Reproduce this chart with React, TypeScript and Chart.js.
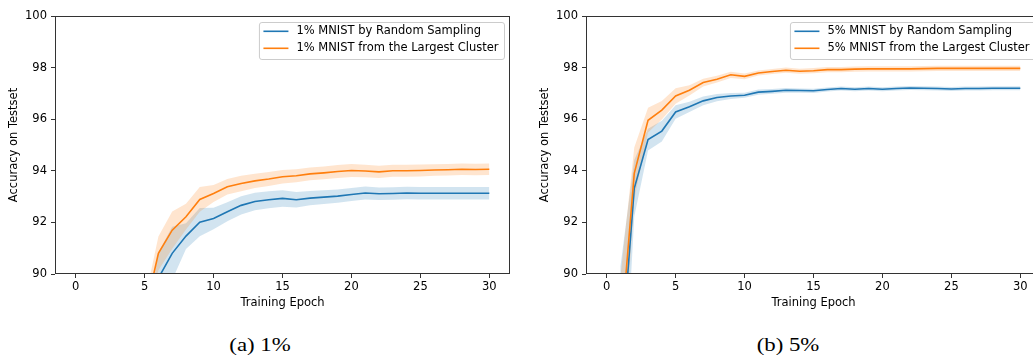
import React, { useEffect, useRef } from 'react';
import { Chart, registerables } from 'chart.js';

Chart.register(...registerables);

// ---------- data ----------
const epochs = [0, 1, 2, 3, 4, 5, 6, 7, 8, 9, 10, 11, 12, 13, 14, 15, 16, 17, 18, 19, 20, 21, 22, 23, 24, 25, 26, 27, 28, 29, 30];
const xTicks = [0, 5, 10, 15, 20, 25, 30];
const yTicks = [90, 92, 94, 96, 98, 100];

const randomMean1 = [10.1, 21.3, 45.0, 68.5, 80.2, 86.5, 89.84, 90.8, 91.47, 92.01, 92.15, 92.41, 92.66, 92.81, 92.88, 92.93, 92.88, 92.94, 92.98, 93.02, 93.08, 93.14, 93.11, 93.12, 93.14, 93.13, 93.13, 93.13, 93.13, 93.13, 93.13];
const randomStd1 = [2.0, 3.0, 3.0, 2.5, 1.5, 1.1, 1.0, 1.03, 0.5, 0.55, 0.42, 0.37, 0.35, 0.34, 0.33, 0.32, 0.3, 0.28, 0.27, 0.26, 0.25, 0.25, 0.24, 0.24, 0.24, 0.24, 0.24, 0.24, 0.24, 0.24, 0.24];
const clusterMean1 = [11.4, 30.2, 55.0, 74.5, 84.0, 88.45, 90.8, 91.7, 92.22, 92.89, 93.12, 93.38, 93.51, 93.61, 93.68, 93.77, 93.81, 93.88, 93.92, 93.97, 94.01, 93.99, 93.96, 94.0, 94.0, 94.01, 94.03, 94.04, 94.06, 94.05, 94.06];
const clusterStd1 = [2.0, 3.0, 3.0, 2.0, 1.0, 0.5, 0.65, 0.72, 0.5, 0.48, 0.33, 0.3, 0.3, 0.28, 0.27, 0.26, 0.25, 0.25, 0.25, 0.25, 0.25, 0.24, 0.24, 0.23, 0.23, 0.23, 0.22, 0.22, 0.22, 0.22, 0.22];

const randomMean5 = [45.0, 86.3, 93.32, 95.21, 95.54, 96.28, 96.48, 96.71, 96.84, 96.9, 96.93, 97.05, 97.08, 97.12, 97.11, 97.1, 97.15, 97.19, 97.16, 97.19, 97.16, 97.19, 97.21, 97.2, 97.19, 97.17, 97.19, 97.19, 97.2, 97.2, 97.2];
const randomStd5 = [4.0, 4.0, 1.1, 0.42, 0.4, 0.26, 0.2, 0.17, 0.14, 0.12, 0.1, 0.1, 0.09, 0.09, 0.08, 0.08, 0.08, 0.08, 0.08, 0.08, 0.08, 0.08, 0.08, 0.08, 0.08, 0.08, 0.08, 0.08, 0.08, 0.08, 0.08];
const clusterMean5 = [52.0, 87.4, 93.9, 95.96, 96.35, 96.9, 97.12, 97.42, 97.55, 97.72, 97.66, 97.79, 97.85, 97.9, 97.86, 97.88, 97.92, 97.92, 97.94, 97.95, 97.95, 97.95, 97.95, 97.96, 97.97, 97.97, 97.97, 97.97, 97.97, 97.97, 97.97];
const clusterStd5 = [3.0, 2.5, 1.0, 0.48, 0.36, 0.3, 0.2, 0.15, 0.13, 0.12, 0.11, 0.1, 0.1, 0.1, 0.1, 0.1, 0.1, 0.1, 0.1, 0.1, 0.1, 0.1, 0.1, 0.1, 0.1, 0.1, 0.1, 0.1, 0.1, 0.1, 0.1];

const labels1 = ['1% MNIST by Random Sampling', '1% MNIST from the Largest Cluster'];
const labels5 = ['5% MNIST by Random Sampling', '5% MNIST from the Largest Cluster'];
const captions = ['(a) 1%', '(b) 5%'];
const xTitle = 'Training Epoch';
const yTitle = 'Accuracy on Testset';

// ---------- style ----------
const BLUE = '#1f77b4';
const ORANGE = '#ff7f0e';
const BLUE_BAND = 'rgba(31,119,180,0.2)';
const ORANGE_BAND = 'rgba(255,127,14,0.2)';
const FONT = 'DejaVu Sans';
const FS = 11.5;
const AXIS_COLOR = '#333333';

const toPoints = (vals: number[]) => epochs.map((e, i) => ({ x: e, y: vals[i] }));
const bandEdge = (mean: number[], std: number[], sign: number) =>
  epochs.map((e, i) => ({ x: e, y: mean[i] + sign * std[i] }));

const frameLegendPlugin = {
  id: 'frameLegend',
  afterDatasetsDraw(chart: any) {
    const { ctx, chartArea: a } = chart;
    ctx.save();
    ctx.strokeStyle = AXIS_COLOR;
    ctx.lineWidth = 1;
    const l = Math.round(a.left) + 0.5;
    const t = Math.round(a.top) + 0.5;
    const r = Math.round(a.right) - 0.5;
    const b = Math.round(a.bottom) - 0.5;
    ctx.strokeRect(l, t, r - l, b - t);
    ctx.restore();
  },
  afterDraw(chart: any) {
    const { ctx, chartArea: a } = chart;
    const items = chart.data.datasets.filter((d: any) => d.label);
    ctx.save();
    ctx.font = `${FS}px "${FONT}"`;
    const tw = Math.max(...items.map((d: any) => ctx.measureText(d.label).width));
    const bw = 4.5 + 25 + 8 + tw + 5.5;
    const bh = 37;
    const bx = a.right - 6 - bw;
    const by = a.top + 6;
    ctx.beginPath();
    if ((ctx as any).roundRect) (ctx as any).roundRect(bx + 0.5, by + 0.5, bw, bh, 2.5);
    else ctx.rect(bx + 0.5, by + 0.5, bw, bh);
    ctx.fillStyle = 'rgba(255,255,255,0.8)';
    ctx.fill();
    ctx.strokeStyle = '#cccccc';
    ctx.lineWidth = 1;
    ctx.stroke();
    items.forEach((d: any, i: number) => {
      const y = by + 9.3 + i * 17;
      ctx.beginPath();
      ctx.moveTo(bx + 4.5, y);
      ctx.lineTo(bx + 29.5, y);
      ctx.strokeStyle = d.borderColor;
      ctx.lineWidth = 1.6;
      ctx.stroke();
      ctx.fillStyle = '#000';
      ctx.textBaseline = 'middle';
      ctx.textAlign = 'left';
      ctx.fillText(d.label, bx + 37.5, y);
    });
    ctx.restore();
  },
};

type PanelProps = {
  left: number;
  labels: string[];
  rMean: number[];
  rStd: number[];
  cMean: number[];
  cStd: number[];
};

function Panel({ left, labels, rMean, rStd, cMean, cStd }: PanelProps) {
  const ref = useRef<HTMLCanvasElement>(null);
  useEffect(() => {
    const font = { family: FONT, size: FS, lineHeight: 1.2 };
    const gridOpts = {
      display: true,
      drawOnChartArea: false,
      drawTicks: true,
      tickLength: 4,
      color: AXIS_COLOR,
      lineWidth: 1,
    };
    const chart = new Chart(ref.current as HTMLCanvasElement, {
      type: 'line',
      data: {
        datasets: [
          { label: labels[0], data: toPoints(rMean), borderColor: BLUE, borderWidth: 1.6, pointRadius: 0, fill: false, order: 1, tension: 0 },
          { label: labels[1], data: toPoints(cMean), borderColor: ORANGE, borderWidth: 1.6, pointRadius: 0, fill: false, order: 0, tension: 0 },
          { label: '', data: bandEdge(rMean, rStd, -1), borderColor: 'rgba(0,0,0,0)', borderWidth: 0, pointRadius: 0, fill: false, order: 3 },
          { label: '', data: bandEdge(rMean, rStd, 1), borderColor: 'rgba(0,0,0,0)', borderWidth: 0, pointRadius: 0, fill: '-1', backgroundColor: BLUE_BAND, order: 3 },
          { label: '', data: bandEdge(cMean, cStd, -1), borderColor: 'rgba(0,0,0,0)', borderWidth: 0, pointRadius: 0, fill: false, order: 2 },
          { label: '', data: bandEdge(cMean, cStd, 1), borderColor: 'rgba(0,0,0,0)', borderWidth: 0, pointRadius: 0, fill: '-1', backgroundColor: ORANGE_BAND, order: 2 },
        ],
      },
      options: {
        responsive: false,
        animation: false,
        devicePixelRatio: 1,
        events: [],
        layout: { padding: { left: 0, top: 16, right: 10, bottom: 0 } },
        plugins: { legend: { display: false }, tooltip: { enabled: false }, title: { display: false } },
        scales: {
          x: {
            type: 'linear',
            min: -1.5,
            max: 31.5,
            afterBuildTicks: (s: any) => { s.ticks = xTicks.map((v) => ({ value: v })); },
            afterFit: (s: any) => { s.height = 46; },
            grid: gridOpts,
            border: { display: false },
            ticks: { padding: 2, color: '#000', font, maxRotation: 0, autoSkip: false, callback: (v: any) => String(v) },
            title: { display: true, text: xTitle, color: '#000', font, padding: { top: 0, bottom: 10.4 } },
          },
          y: {
            type: 'linear',
            min: 90,
            max: 100,
            afterBuildTicks: (s: any) => { s.ticks = yTicks.map((v) => ({ value: v })); },
            afterFit: (s: any) => { s.width = 55; },
            grid: gridOpts,
            border: { display: false },
            ticks: { padding: 4, color: '#000', font, callback: (v: any) => String(v) },
            title: { display: true, text: yTitle, color: '#000', font, padding: { top: 7.4, bottom: 0 } },
          },
        },
      },
      plugins: [frameLegendPlugin],
    } as any);
    return () => chart.destroy();
  }, []);
  return (
    <canvas
      ref={ref}
      width={520}
      height={320}
      style={{ position: 'absolute', left, top: 0, width: 520, height: 320 }}
    />
  );
}

function Caption({ cx, text }: { cx: number; text: string }) {
  return (
    <div
      style={{
        position: 'absolute',
        left: cx - 100,
        top: 335,
        width: 200,
        textAlign: 'center',
        fontFamily: '"Liberation Serif", serif',
        fontSize: 19,
        lineHeight: '19px',
        color: '#000',
        whiteSpace: 'nowrap',
        transform: 'scaleX(1.2)',
        transformOrigin: '50% 50%',
      }}
    >
      {text}
    </div>
  );
}

export default function App() {
  return (
    <div
      style={{
        position: 'absolute',
        left: 0,
        top: 0,
        width: 1033,
        height: 356,
        overflow: 'hidden',
        background: '#ffffff',
      }}
    >
      <Panel left={0} labels={labels1} rMean={randomMean1} rStd={randomStd1} cMean={clusterMean1} cStd={clusterStd1} />
      <Panel left={531} labels={labels5} rMean={randomMean5} rStd={randomStd5} cMean={clusterMean5} cStd={clusterStd5} />
      <Caption cx={259.5} text={captions[0]} />
      <Caption cx={788} text={captions[1]} />
    </div>
  );
}
